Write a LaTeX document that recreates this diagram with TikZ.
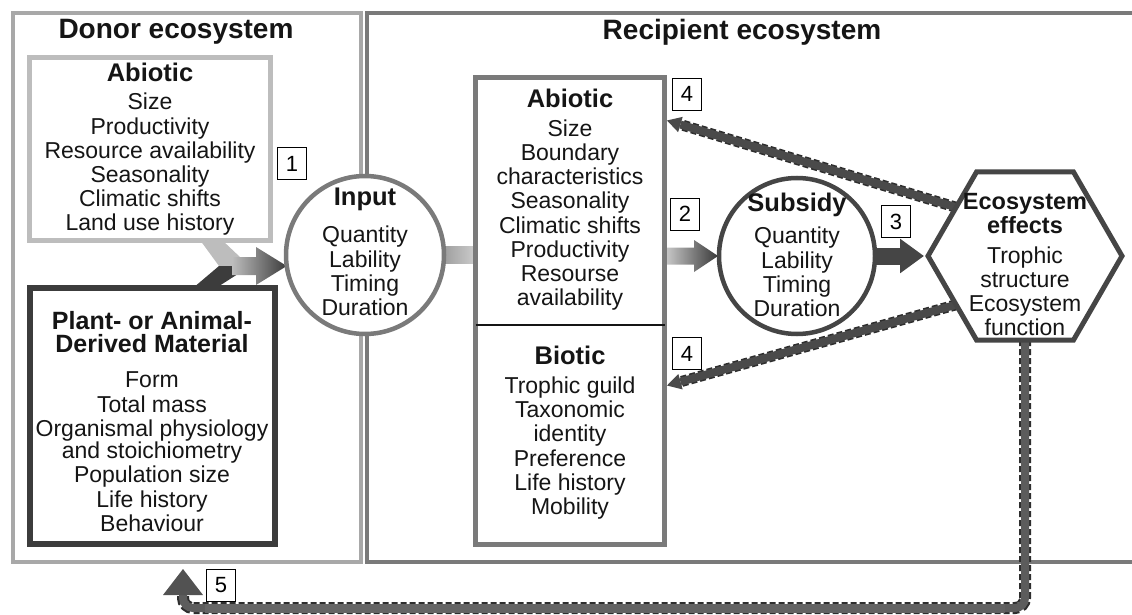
\documentclass[tikz,border=0pt]{standalone}
\usepackage{fontspec}
\setmainfont{Liberation Sans}
\usetikzlibrary{shapes.geometric,arrows.meta,calc}
\definecolor{txt}{HTML}{151515}
\definecolor{dk}{HTML}{454545}
\definecolor{midg}{HTML}{7A7A7A}
\definecolor{lt}{HTML}{BDBDBD}
\definecolor{dono}{HTML}{A8A8A8}
\definecolor{plantc}{HTML}{3C3C3C}
\definecolor{edgec}{HTML}{2E2E2E}
\definecolor{bandd}{HTML}{4A4A4A}
\definecolor{bandl}{HTML}{B8B8B8}
\pgfdeclarelayer{back}
\pgfdeclarelayer{conn}
\pgfsetlayers{back,conn,main}
\newcommand\bandarr[2]{%
  \coordinate (bS) at #1;
  \coordinate (bT) at #2;
  \coordinate (bB) at ($(bT)!14pt!(bS)$);
  \draw[line width=11pt, edgec, dash pattern=on 6pt off 3pt] (bS) -- (bB);
  \shade[left color=bandd, middle color=bandl, right color=bandd]
    ($(bS)!4pt!90:(bB)$) -- ($(bB)!4pt!-90:(bS)$) -- ($(bB)!4pt!90:(bS)$) -- ($(bS)!4pt!-90:(bB)$) -- cycle;
  \fill[bandd] (bT) -- ($(bB)!8pt!90:(bT)$) -- ($(bB)!8pt!-90:(bT)$) -- cycle;
}
\begin{document}
\begin{tikzpicture}[x=1pt,y=-1pt,
  box/.style={rectangle, inner sep=0pt, outer sep=0pt},
  lst/.style={align=center, inner sep=0pt, text=txt, font=\fontsize{23}{24.2}\selectfont},
  ttl/.style={align=center, inner sep=0pt, text=txt, font=\bfseries\fontsize{25.5}{22}\selectfont},
  big/.style={inner sep=0pt, text=txt, font=\bfseries\fontsize{28}{30}\selectfont},
  numbox/.style={draw=black, line width=0.9pt, fill=white, minimum width=29pt, minimum height=32pt, inner sep=0pt, font=\fontsize{22}{22}\selectfont}]
\useasboundingbox (0,0) rectangle (1132,615);

% outer ecosystems
\begin{pgfonlayer}{back}
\node[box, draw=dono, line width=4pt, minimum width=348pt, minimum height=549pt] (donor) at (187,287.5) {};
\node[box, draw=midg, line width=4.5pt, minimum width=773pt, minimum height=549pt] (recip) at (753.5,287.5) {};
\end{pgfonlayer}

% inner boxes and shapes
\node[box, draw=lt, line width=5pt, fill=white, minimum width=241pt, minimum height=183pt] (dab) at (150,149) {};
\node[box, draw=plantc, line width=6pt, fill=white, minimum width=245pt, minimum height=256pt] (plant) at (152.5,416) {};
\node[box, draw=midg, line width=5pt, fill=white, minimum width=189pt, minimum height=467pt] (rbox) at (570,311) {};
\draw[line width=1.2pt, txt] (rbox.west |- 0,325) -- (rbox.east |- 0,325);
\node[circle, draw=midg, line width=4.5pt, fill=white, minimum size=158pt, inner sep=0pt, outer sep=0pt] (inp) at (365,255) {};
\node[circle, draw=dk, line width=4.5pt, fill=white, minimum size=156pt, inner sep=0pt, outer sep=0pt] (sub) at (797,256) {};
\node[regular polygon, regular polygon sides=6, draw=dk, line width=5pt, fill=white, minimum size=194pt, inner sep=0pt, outer sep=0pt] (hex) at (1025,256) {};

% titles
\node[big] (tdonor) at (176,32) {Donor ecosystem};
\node[big] (trec) at (742,32) {Recipient ecosystem};

% donor abiotic
\node[ttl] (dabT) at (150,72) {Abiotic};
\node[lst] (dabL) at (150,164.5) {Size\\Productivity\\Resource availability\\Seasonality\\Climatic shifts\\Land use history};

% plant material
\node[ttl, font=\bfseries\fontsize{25}{23.5}\selectfont] (plT) at (152,332) {Plant- or Animal-\\Derived Material};
\node[lst, font=\fontsize{23}{24.5}\selectfont] (plL) at (152,452) {Form\\Total mass\\Organismal physiology\\[-3pt]and stoichiometry\\Population size\\Life history\\Behaviour};

% input
\node[ttl] (inpT) at (365,199) {Input};
\node[lst] (inpL) at (365,271) {Quantity\\Lability\\Timing\\Duration};

% recipient abiotic / biotic
\node[ttl] (rabT) at (570,98) {Abiotic};
\node[lst] (rabL) at (570,215) {Size\\Boundary\\characteristics\\Seasonality\\Climatic shifts\\Productivity\\Resourse\\availability};
\node[ttl] (rbiT) at (570,355) {Biotic};
\node[lst] (rbiL) at (570,448) {Trophic guild\\Taxonomic\\identity\\Preference\\Life history\\Mobility};

% subsidy
\node[ttl] (subT) at (797,205) {Subsidy};
\node[lst] (subL) at (797,272) {Quantity\\Lability\\Timing\\Duration};

% ecosystem effects
\node[ttl, font=\bfseries\fontsize{23.5}{24}\selectfont] (hexT) at (1025,214) {Ecosystem\\effects};
\node[lst, font=\fontsize{23}{24}\selectfont] (hexL) at (1025,291) {Trophic\\structure\\Ecosystem\\function};

% number labels
\node[numbox] (n1) at (292,163.5) {1};
\node[numbox] (n2) at (685,214) {2};
\node[numbox] (n3) at (896,221.5) {3};
\node[numbox] (n4a) at (687,94) {4};
\node[numbox] (n4b) at (687,353.5) {4};
\node[numbox] (n5) at (221,585) {5};

\coordinate (ret) at (183,569);

% connectors
\begin{pgfonlayer}{conn}
% donor -> input merge arrow
\fill[lt] (200,240) -- (222,240) -- (241,258) -- (241,266) -- (219,266) -- cycle;
\fill[plantc] (193,288) -- (216,288) -- (241,272) -- (241,266) -- (219,266) -- cycle;
\shade[left color=lt, right color=plantc] (232,257) -- (256,257) -- (256,247) -- (inp.188) -- (256,285) -- (256,275) -- (232,275) -- cycle;
% input -> recipient bar
\shade[left color=black!40, right color=black!20] ($(inp.east)+(-4,-8.5)$) rectangle ($(rbox.west |- inp.east)+(0,8.5)$);
% arrow 2
\coordinate (a2s) at (rbox.east |- sub.west);
\coordinate (a2t) at ($(sub.west)+(-1,0)$);
\shade[left color=black!20, right color=black!78]
  ($(a2s)+(0,-8.5)$) -- ($(a2t)+(-24,-8.5)$) -- ($(a2t)+(-24,-16)$) -- (a2t) -- ($(a2t)+(-24,16)$) -- ($(a2t)+(-24,8.5)$) -- ($(a2s)+(0,8.5)$) -- cycle;
% arrow 3
\draw[dk, line width=17pt, -{Triangle[length=24pt,width=33pt]}] (sub.east) -- ($(hex.corner 3)+(-4,0)$);
% feedback arrows 4
\bandarr{($(hex.corner 3)!0.58!(hex.corner 2)$)}{($(rbox.north east)+(2.5,43)$)}
\bandarr{($(hex.corner 3)!0.58!(hex.corner 4)$)}{($(rbox.north east)+(2.5,308)$)}
% loop arrow 5
\draw[line width=12pt, edgec, dash pattern=on 6pt off 3pt, rounded corners=10pt]
  (hex.south) -- (hex.south |- 0,608) -- (ret |- 0,608) -- ($(ret)+(0,25)$);
\draw[line width=8pt, black!64, rounded corners=10pt]
  (hex.south) -- (hex.south |- 0,608) -- (ret |- 0,608) -- ($(ret)+(0,25)$);
\shade[left color=black!60, middle color=black!22, right color=black!62] (205,604) rectangle (1005,612);
\fill[black!68] (ret) -- ++(-20,26) -- ++(40,0) -- cycle;
\end{pgfonlayer}
\end{tikzpicture}
\end{document}
